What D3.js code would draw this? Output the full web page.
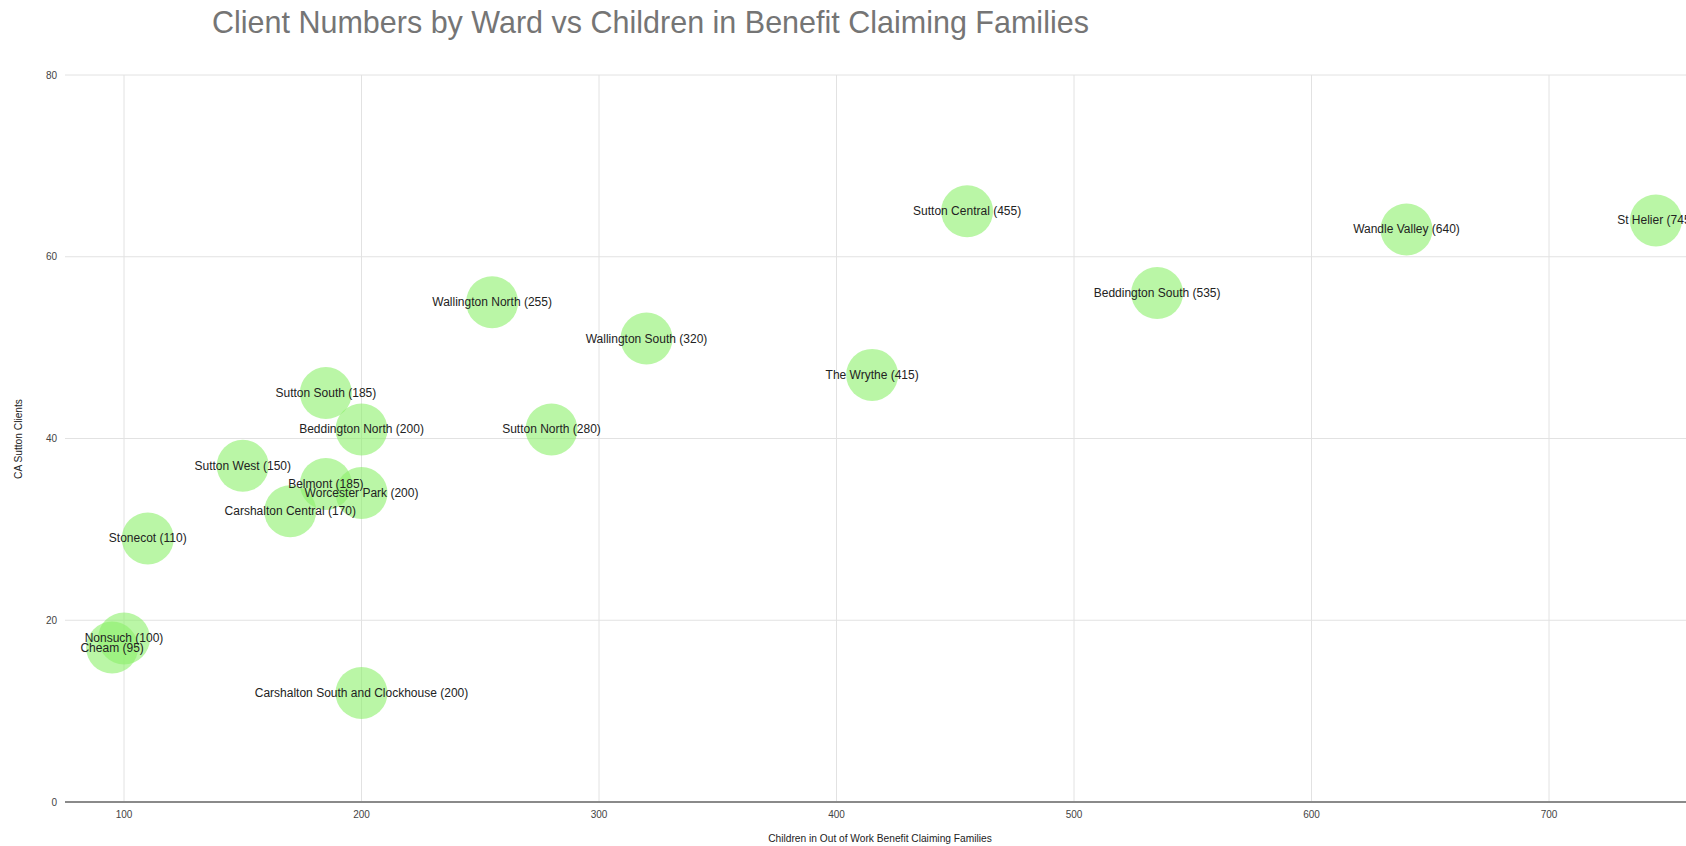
<!DOCTYPE html>
<html>
<head>
<meta charset="utf-8">
<script src="https://cdn.jsdelivr.net/npm/d3@7"></script>
<style>
  body { margin: 0; background: #fff; }
  svg { display: block; font-family: "Liberation Sans", Arial, sans-serif; }
</style>
</head>
<body>
<svg id="chart" width="1686" height="846"></svg>
<script>
// ward data: name, children in out-of-work benefit families, CA Sutton clients
var wards = ["Sutton Central", "Wandle Valley", "St Helier", "Beddington South",
  "Wallington North", "Wallington South", "The Wrythe", "Sutton South",
  "Beddington North", "Sutton North", "Sutton West", "Belmont", "Worcester Park",
  "Carshalton Central", "Stonecot", "Nonsuch", "Cheam", "Carshalton South and Clockhouse"];
var children = [455, 640, 745, 535, 255, 320, 415, 185, 200, 280, 150, 185, 200, 170, 110, 100, 95, 200];
var clients = [65, 63, 64, 56, 55, 51, 47, 45, 41, 41, 37, 35, 34, 32, 29, 18, 17, 12];

var xTicks = [100, 200, 300, 400, 500, 600, 700];
var yTicks = [0, 20, 40, 60, 80];

var svg = d3.select("#chart");
var width = 1686, height = 846;

var x = d3.scaleLinear()
    .domain([100, 700])
    .range([124, 1549]);

var y = d3.scaleLinear()
    .domain([0, 80])
    .range([802, 75]);

var left = 65;

// title
svg.append("text")
    .attr("x", 212)
    .attr("y", 33)
    .attr("font-size", 30.5)
    .attr("fill", "#757575")
    .text("Client Numbers by Ward vs Children in Benefit Claiming Families");

// grid
svg.append("g").selectAll("line")
    .data(yTicks.filter(function(d) { return d > 0; }))
  .enter().append("line")
    .attr("x1", left)
    .attr("x2", width)
    .attr("y1", function(d) { return y(d); })
    .attr("y2", function(d) { return y(d); })
    .attr("stroke", "#e2e2e2");

svg.append("g").selectAll("line")
    .data(xTicks)
  .enter().append("line")
    .attr("x1", function(d) { return x(d); })
    .attr("x2", function(d) { return x(d); })
    .attr("y1", y(80))
    .attr("y2", y(0))
    .attr("stroke", "#e2e2e2");

// x axis baseline
svg.append("line")
    .attr("x1", left)
    .attr("x2", width)
    .attr("y1", y(0))
    .attr("y2", y(0))
    .attr("stroke", "#8a8a8a")
    .attr("stroke-width", 2);

// tick labels
svg.append("g").selectAll("text")
    .data(xTicks)
  .enter().append("text")
    .attr("x", function(d) { return x(d); })
    .attr("y", y(0) + 16)
    .attr("text-anchor", "middle")
    .attr("font-size", 10)
    .attr("fill", "#444")
    .text(function(d) { return d; });

svg.append("g").selectAll("text")
    .data(yTicks)
  .enter().append("text")
    .attr("x", 57)
    .attr("y", function(d) { return y(d) + 3.5; })
    .attr("text-anchor", "end")
    .attr("font-size", 10)
    .attr("fill", "#444")
    .text(function(d) { return d; });

// axis titles
svg.append("text")
    .attr("x", 880)
    .attr("y", 842)
    .attr("text-anchor", "middle")
    .attr("font-size", 10.2)
    .attr("fill", "#222")
    .text("Children in Out of Work Benefit Claiming Families");

svg.append("text")
    .attr("transform", "translate(22, 439) rotate(-90)")
    .attr("text-anchor", "middle")
    .attr("font-size", 10.2)
    .attr("fill", "#222")
    .text("CA Sutton Clients");

// bubbles
var idx = d3.range(wards.length);

svg.append("g").selectAll("circle")
    .data(idx)
  .enter().append("circle")
    .attr("cx", function(i) { return x(children[i]); })
    .attr("cy", function(i) { return y(clients[i]); })
    .attr("r", 26)
    .attr("fill", "#8cf06a")
    .attr("fill-opacity", 0.6);

svg.append("g").selectAll("text")
    .data(idx)
  .enter().append("text")
    .attr("x", function(i) { return x(children[i]); })
    .attr("y", function(i) { return y(clients[i]) + 4; })
    .attr("text-anchor", "middle")
    .attr("font-size", 12)
    .attr("fill", "#222")
    .text(function(i) { return wards[i] + " (" + children[i] + ")"; });
</script>
</body>
</html>
